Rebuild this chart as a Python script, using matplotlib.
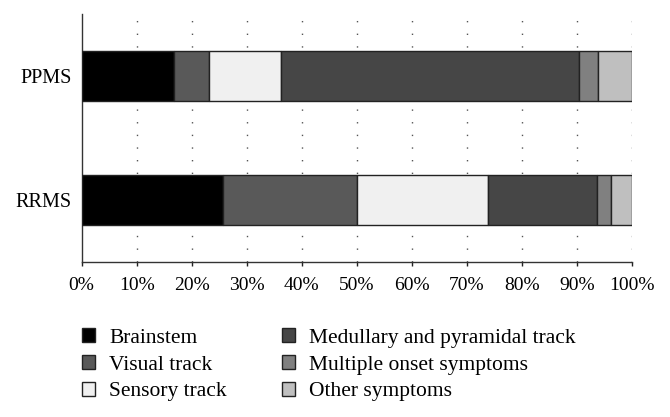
import matplotlib.pyplot as plt
from matplotlib.patches import Patch

# data
groups = ['RRMS', 'PPMS']
categories = ['Brainstem', 'Visual track', 'Sensory track',
              'Medullary and pyramidal track', 'Multiple onset symptoms', 'Other symptoms']
rrms = [25.7, 24.4, 23.7, 19.9, 2.5, 3.8]
ppms = [16.8, 6.4, 13.1, 54.0, 3.5, 6.2]
colors = ['#000000', '#595959', '#f0f0f0', '#464646', '#808080', '#bfbfbf']
xticks = [0, 10, 20, 30, 40, 50, 60, 70, 80, 90, 100]

plt.rcParams['font.family'] = ['Liberation Serif', 'DejaVu Serif']

fig = plt.figure(figsize=(6.7, 4.17), dpi=100)
ax = fig.add_axes([0.1219, 0.3717, 0.8214, 0.5947])

values = [rrms, ppms]
for i, g in enumerate(groups):
    left = 0
    for j, v in enumerate(values[i]):
        ax.barh(i, v, left=left, height=0.405, color=colors[j],
                edgecolor='#222222', linewidth=1.0, zorder=3)
        left += v

# dotted vertical grid
for t in xticks[1:]:
    ax.axvline(t, color='#555555', linewidth=1.0, linestyle=(0, (1, 8.1)), zorder=1)

ax.set_xlim(0, 100)
ax.set_ylim(-0.5, 1.5)
ax.set_xticks(xticks)
ax.set_xticklabels([f'{t}%' for t in xticks], fontsize=14)
ax.set_yticks([0, 1])
ax.set_yticklabels(groups, fontsize=14.5)
ax.tick_params(axis='y', length=0, pad=7)
ax.tick_params(axis='x', length=3, width=1, color='#222222', pad=8)
for s in ['top', 'right']:
    ax.spines[s].set_visible(False)
for s in ['left', 'bottom']:
    ax.spines[s].set_color('#333333')
    ax.spines[s].set_linewidth(1.0)

handles = [Patch(facecolor=c, edgecolor='#222222', linewidth=1.0) for c in colors]
leg_kw = dict(loc='upper left', frameon=False, fontsize=15.5,
              handlelength=0.62, handleheight=0.62, handletextpad=0.65,
              labelspacing=0.34, borderaxespad=0, borderpad=0)
fig.legend(handles[:3], categories[:3], bbox_to_anchor=(0.1224, 0.213), **leg_kw)
fig.legend(handles[3:], categories[3:], bbox_to_anchor=(0.4209, 0.213), **leg_kw)

fig.savefig('out.png', dpi=100)
